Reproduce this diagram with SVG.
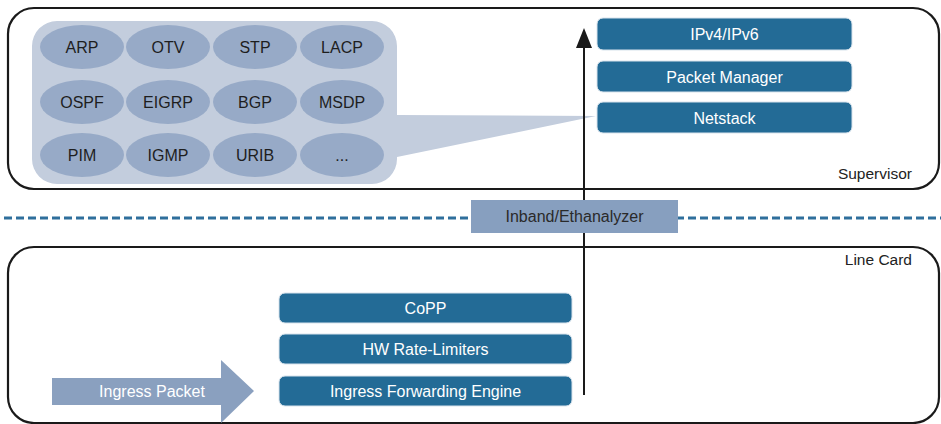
<svg xmlns="http://www.w3.org/2000/svg" width="941" height="424" viewBox="0 0 941 424">
<defs>
<style>
.frame{fill:#fff;stroke:#1a1a1a;stroke-width:2.2}
.proto{fill:#97aac7}
.pt{font-family:"Liberation Sans",Arial,sans-serif;font-size:16px;fill:#1e1e1e;text-anchor:middle}
.box{fill:#236b96;stroke:#d8e3ec;stroke-width:1}
.bt{font-family:"Liberation Sans",Arial,sans-serif;font-size:16px;fill:#fff;text-anchor:middle}
.lbl{font-family:"Liberation Sans",Arial,sans-serif;font-size:15.5px;fill:#222;text-anchor:end}
</style>
</defs>
<rect width="941" height="424" fill="#fff"/>
<g id="supervisor">
<rect class="frame" x="8" y="8" width="931" height="181" rx="26"/>
<text class="lbl" x="912" y="179">Supervisor</text>
</g>
<g id="linecard">
<rect class="frame" x="8" y="247" width="931" height="176" rx="26"/>
<text class="lbl" x="912" y="265">Line Card</text>
</g>
<g id="protocols">
<path d="M57,21 H372 A25,25 0 0 1 397,46 V115 L596,116 L397,157 V159 A25,25 0 0 1 372,184 H57 A25,25 0 0 1 32,159 V46 A25,25 0 0 1 57,21 Z" fill="#c3cddd"/>
<g id="arp"><ellipse class="proto" cx="82" cy="47" rx="42" ry="22"/><text class="pt" x="82" y="52.5">ARP</text></g>
<g id="otv"><ellipse class="proto" cx="168" cy="47" rx="42" ry="22"/><text class="pt" x="168" y="52.5">OTV</text></g>
<g id="stp"><ellipse class="proto" cx="255" cy="47" rx="42" ry="22"/><text class="pt" x="255" y="52.5">STP</text></g>
<g id="lacp"><ellipse class="proto" cx="342" cy="47" rx="42" ry="22"/><text class="pt" x="342" y="52.5">LACP</text></g>
<g id="ospf"><ellipse class="proto" cx="82" cy="102" rx="42" ry="22"/><text class="pt" x="82" y="107.5">OSPF</text></g>
<g id="eigrp"><ellipse class="proto" cx="168" cy="102" rx="42" ry="22"/><text class="pt" x="168" y="107.5">EIGRP</text></g>
<g id="bgp"><ellipse class="proto" cx="255" cy="102" rx="42" ry="22"/><text class="pt" x="255" y="107.5">BGP</text></g>
<g id="msdp"><ellipse class="proto" cx="342" cy="102" rx="42" ry="22"/><text class="pt" x="342" y="107.5">MSDP</text></g>
<g id="pim"><ellipse class="proto" cx="82" cy="155" rx="42" ry="22"/><text class="pt" x="82" y="160.5">PIM</text></g>
<g id="igmp"><ellipse class="proto" cx="168" cy="155" rx="42" ry="22"/><text class="pt" x="168" y="160.5">IGMP</text></g>
<g id="urib"><ellipse class="proto" cx="255" cy="155" rx="42" ry="22"/><text class="pt" x="255" y="160.5">URIB</text></g>
<g id="more"><ellipse class="proto" cx="342" cy="155" rx="42" ry="22"/><text class="pt" x="342" y="160.5">...</text></g>
</g>
<g id="separator">
<line x1="4" y1="218" x2="941" y2="218" stroke="#2f6f9c" stroke-width="3" stroke-dasharray="8,4"/>
</g>
<g id="connectors">
<line x1="584" y1="395" x2="584" y2="44" stroke="#1a1a1a" stroke-width="2"/>
<polygon points="584,28 592,48 576,48" fill="#1a1a1a"/>
</g>
<g id="inband">
<rect x="471" y="200" width="207" height="33" fill="#879fbf"/>
<text x="574.5" y="222" font-family="Liberation Sans,Arial,sans-serif" font-size="16" fill="#2a2a2a" text-anchor="middle" textLength="138" lengthAdjust="spacingAndGlyphs">Inband/Ethanalyzer</text>
</g>
<g id="ipv4ipv6"><rect class="box" x="597" y="18" width="255" height="32" rx="6"/><text class="bt" x="724.5" y="40">IPv4/IPv6</text></g>
<g id="packetmanager"><rect class="box" x="597" y="61" width="255" height="31" rx="6"/><text class="bt" x="724.5" y="82.5">Packet Manager</text></g>
<g id="netstack"><rect class="box" x="597" y="102" width="255" height="31" rx="6"/><text class="bt" x="724.5" y="123.5">Netstack</text></g>
<g id="copp"><rect class="box" x="279" y="293" width="293" height="30" rx="6"/><text class="bt" x="425.5" y="313.5">CoPP</text></g>
<g id="hwrate"><rect class="box" x="279" y="334" width="293" height="30" rx="6"/><text class="bt" x="425.5" y="354.5">HW Rate-Limiters</text></g>
<g id="ife"><rect class="box" x="279" y="376" width="293" height="30" rx="6"/><text class="bt" x="425.5" y="396.5">Ingress Forwarding Engine</text></g>
<g id="ingress">
<polygon points="52,378 221,378 221,360 254,391 221,423 221,405 52,405" fill="#8aa0bf"/>
<text class="bt" x="152" y="397">Ingress Packet</text>
</g>
</svg>
